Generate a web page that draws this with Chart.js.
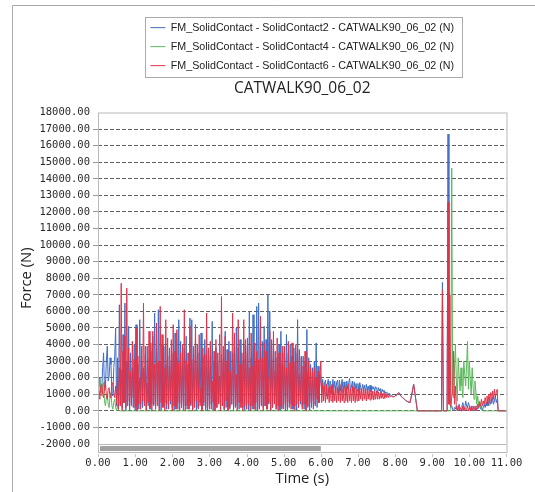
<!DOCTYPE html>
<html>
<head>
<meta charset="utf-8">
<script src="https://cdn.jsdelivr.net/npm/chart.js@4/dist/chart.umd.min.js"></script>
<style>
  html, body { margin: 0; padding: 0; background: #ffffff; }
  #c { display: block; width: 535px; height: 492px; }
</style>
</head>
<body>
<canvas id="c" width="535" height="492"></canvas>
<script>
// Contact forces sampled every 0.025 s, from 0.000 s to 11.000 s (441 samples)
const SAMPLE_STEP = 0.025;

const CONTACT2 = [
  /* 0.0 */ 900, 1500, 2000, 1100, 1200, 2600, 3500, 1200, 1400, 3000, 3900, 1800, 2100, 3200, 2800, 1000, 900, 2600, 3300, 5000,
  /* 0.5 */ 300, 3200, 100, 6400, 400, 2500, 200, 4600, 500, 6500, 0, 3000, 300, 5100, 100, 3500, 400, 2600, 200, 4000,
  /* 1.0 */ 0, 5200, 300, 2800, 100, 5500, 400, 3000, 200, 2600, 500, 3400, 0, 3900, 300, 2500, 100, 3600, 400, 4500,
  /* 1.5 */ 300, 5900, 100, 3800, 400, 6100, 200, 3000, 0, 4000, 300, 3900, 500, 2800, 100, 4400, 200, 3800, 400, 3000,
  /* 2.0 */ 200, 3500, 0, 4700, 300, 3200, 100, 5500, 400, 4200, 200, 3000, 0, 3800, 300, 4500, 100, 2800, 500, 5600,
  /* 2.5 */ 300, 5500, 100, 3000, 400, 4200, 0, 4000, 200, 3500, 500, 4700, 100, 3300, 300, 4300, 0, 3600, 200, 3000,
  /* 3.0 */ 100, 3300, 400, 5400, 0, 3000, 300, 3800, 200, 2900, 500, 4600, 100, 3400, 300, 3100, 0, 4800, 200, 3700,
  /* 3.5 */ 300, 4200, 100, 3600, 400, 3500, 0, 3900, 200, 5000, 300, 3800, 100, 4300, 500, 2900, 200, 4000, 0, 4300,
  /* 4.0 */ 200, 3600, 0, 6000, 300, 3200, 100, 5800, 400, 3000, 0, 6300, 200, 6500, 100, 4000, 300, 4200, 200, 5100,
  /* 4.5 */ 300, 4300, 100, 7000, 400, 6000, 0, 4300, 200, 3900, 500, 3600, 100, 3200, 300, 4000, 0, 4800, 200, 3500,
  /* 5.0 */ 100, 3200, 300, 4600, 0, 3500, 200, 4000, 400, 3300, 100, 3800, 300, 3500, 0, 5500, 200, 3700, 400, 3300,
  /* 5.5 */ 300, 3300, 100, 3000, 400, 4900, 200, 3200, 0, 2800, 300, 2600, 100, 3000, 400, 4100, 200, 2700, 500, 2200,
  /* 6.0 */ 1800, 1200, 1900, 1000, 1700, 1850, 900, 1600, 1900, 1100, 1800, 1500, 1000, 1900, 1300, 1800, 1100, 1700, 1850, 1000,
  /* 6.5 */ 1850, 1200, 1600, 1900, 1100, 1750, 1400, 1000, 1800, 1300, 1700, 1950, 1200, 1500, 1800, 1100, 1750, 1300, 1650, 1200,
  /* 7.0 */ 1650, 1100, 1700, 1400, 1200, 1600, 1300, 1550, 1100, 1600, 1250, 1500, 1200, 1550, 1150, 1500, 1300, 1450, 1150, 1450,
  /* 7.5 */ 1400, 1100, 1400, 1200, 1350, 1000, 1300, 1150, 1250, 1050, 1150, 1050, 1100, 1000, 1050, 950, 900, 900, 850, 850,
  /* 8.0 */ 900, 950, 1000, 1050, 1100, 1050, 900, 850, 800, 750, 700, 650, 600, 580, 550, 520, 500, 750, 1000, 1300,
  /* 8.5 */ 1600, 1200, 800, 400, 0, 0, 0, 0, 0, 0, 0, 0, 0, 0, 0, 0, 0, 0, 0, 0,
  /* 9.0 */ 0, 0, 0, 0, 0, 0, 0, 0, 0, 0, 0, 7750, 0, 0, 0, 0, 0, 16700, 900, 400,
  /* 9.5 */ 200, 300, 100, 0, 200, 100, 300, 0, 200, 400, 100, 0, 300, 500, 200, 100, 600, 300, 200, 500,
  /* 10.0 */ 300, 100, 0, 200, 300, 100, 0, 200, 300, 100, 200, 400, 100, 300, 0, 200, 400, 200, 500, 300,
  /* 10.5 */ 600, 300, 700, 400, 500, 800, 400, 600, 900, 500, 700, 0, 0, 0, 0, 0, 0, 0, 0, 0,
  /* 11.0 */ 0
];

const CONTACT4 = [
  /* 0.0 */ 1400, 1700, 1900, 1200, 900, 1500, 1700, 600, 300, 800, 1000, 400, 200, 900, 1100, 300, 100, 500, 700, 200,
  /* 0.5 */ 0, 400, 100, 0, 0, 0, 0, 0, 0, 0, 0, 0, 0, 0, 0, 0, 0, 0, 0, 0,
  /* 1.0 */ 0, 0, 0, 0, 0, 0, 0, 0, 0, 0, 0, 0, 0, 0, 0, 0, 0, 0, 0, 0,
  /* 1.5 */ 0, 0, 0, 0, 0, 0, 0, 0, 0, 0, 0, 0, 0, 0, 0, 0, 0, 0, 0, 0,
  /* 2.0 */ 0, 0, 0, 0, 0, 0, 0, 0, 0, 0, 0, 0, 0, 0, 0, 0, 0, 0, 0, 0,
  /* 2.5 */ 0, 0, 0, 0, 0, 0, 0, 0, 0, 0, 0, 0, 0, 0, 0, 0, 0, 0, 0, 0,
  /* 3.0 */ 0, 0, 0, 0, 0, 0, 0, 0, 0, 0, 0, 0, 0, 0, 0, 0, 0, 0, 0, 0,
  /* 3.5 */ 0, 0, 0, 0, 0, 0, 0, 0, 0, 0, 0, 0, 0, 0, 0, 0, 0, 0, 0, 0,
  /* 4.0 */ 0, 0, 0, 0, 0, 0, 0, 0, 0, 0, 0, 0, 0, 0, 0, 0, 0, 0, 0, 0,
  /* 4.5 */ 0, 0, 0, 0, 0, 0, 0, 0, 0, 0, 0, 0, 0, 0, 0, 0, 0, 0, 0, 0,
  /* 5.0 */ 0, 0, 0, 0, 0, 0, 0, 0, 0, 0, 0, 0, 0, 0, 0, 0, 0, 0, 0, 0,
  /* 5.5 */ 0, 0, 0, 0, 0, 0, 0, 0, 0, 0, 0, 0, 0, 0, 0, 0, 0, 0, 0, 0,
  /* 6.0 */ 0, 0, 0, 0, 0, 0, 0, 0, 0, 0, 0, 0, 0, 0, 0, 0, 0, 0, 0, 0,
  /* 6.5 */ 0, 0, 0, 0, 0, 0, 0, 0, 0, 0, 0, 0, 0, 0, 0, 0, 0, 0, 0, 0,
  /* 7.0 */ 0, 0, 0, 0, 0, 0, 0, 0, 0, 0, 0, 0, 0, 0, 0, 0, 0, 0, 0, 0,
  /* 7.5 */ 0, 0, 0, 0, 0, 0, 0, 0, 0, 0, 0, 0, 0, 0, 0, 0, 0, 0, 0, 0,
  /* 8.0 */ 0, 0, 0, 0, 0, 0, 0, 0, 0, 0, 0, 0, 0, 0, 0, 0, 0, 0, 0, 0,
  /* 8.5 */ 0, 0, 0, 0, 0, 0, 0, 0, 0, 0, 0, 0, 0, 0, 0, 0, 0, 0, 0, 0,
  /* 9.0 */ 0, 0, 0, 0, 0, 0, 0, 0, 0, 0, 0, 0, 0, 0, 0, 0, 0, 0, 0, 0,
  /* 9.5 */ 0, 14650, 1500, 800, 2500, 4000, 1800, 600, 3200, 2000, 1200, 2600, 1500, 800, 3000, 2200, 1500, 2700, 4200, 1300,
  /* 10.0 */ 3000, 1800, 1000, 2600, 1500, 700, 1800, 1200, 400, 900, 300, 600, 200, 100, 0, 0, 0, 0, 0, 0,
  /* 10.5 */ 0, 0, 0, 0, 0, 0, 0, 0, 0, 0, 0, 0, 0, 0, 0, 0, 0, 0, 0, 0,
  /* 11.0 */ 0
];

const CONTACT6 = [
  /* 0.0 */ 1200, 900, 700, 1500, 1600, 1000, 800, 1400, 1800, 900, 700, 1300, 1400, 800, 900, 1600, 1700, 1100, 800, 1500,
  /* 0.5 */ 400, 1900, 100, 2600, 300, 7700, 0, 3600, 500, 4500, 200, 7400, 600, 3800, 0, 2400, 300, 4200, 800, 3100,
  /* 1.0 */ 200, 5000, 0, 3300, 400, 2000, 100, 3900, 600, 6500, 300, 3900, 0, 1700, 500, 4800, 200, 4100, 0, 4800,
  /* 1.5 */ 400, 2800, 100, 5300, 300, 3000, 0, 6300, 500, 4600, 200, 2600, 0, 5500, 400, 3300, 100, 2700, 600, 4300,
  /* 2.0 */ 0, 5200, 300, 3600, 100, 4900, 500, 2900, 0, 3500, 200, 4000, 400, 6100, 0, 3000, 300, 3500, 100, 5100,
  /* 2.5 */ 400, 3100, 0, 3900, 200, 5200, 600, 3000, 100, 4600, 300, 1400, 0, 3800, 500, 3400, 200, 5900, 0, 3800,
  /* 3.0 */ 300, 4200, 100, 1800, 500, 3600, 0, 4300, 200, 3500, 400, 2100, 0, 6900, 300, 3900, 100, 4500, 600, 3000,
  /* 3.5 */ 0, 3600, 200, 2400, 400, 5900, 100, 4700, 300, 2200, 0, 5500, 500, 2800, 200, 3500, 0, 5500, 300, 3900,
  /* 4.0 */ 100, 4400, 400, 2600, 0, 4700, 300, 2700, 100, 4100, 500, 3600, 0, 3100, 200, 5700, 400, 3200, 0, 4100,
  /* 4.5 */ 300, 3600, 100, 2000, 500, 4800, 0, 3100, 200, 4800, 400, 2400, 100, 4400, 0, 3500, 300, 2800, 100, 3900,
  /* 5.0 */ 400, 3900, 0, 2600, 200, 4200, 500, 2900, 100, 4100, 300, 3000, 0, 4000, 400, 3700, 200, 2200, 600, 3200,
  /* 5.5 */ 100, 2700, 400, 3600, 0, 2300, 300, 3000, 500, 2600, 200, 2400, 600, 2600, 300, 2000, 700, 2400, 500, 1800,
  /* 6.0 */ 3000, 500, 1700, 600, 1500, 500, 1600, 700, 1400, 500, 1500, 600, 1600, 500, 1300, 600, 1500, 500, 1400, 600,
  /* 6.5 */ 1500, 500, 1600, 600, 1300, 500, 1500, 600, 1400, 500, 1600, 600, 1300, 500, 1500, 600, 1400, 500, 1300, 600,
  /* 7.0 */ 1300, 600, 1400, 700, 1300, 600, 1350, 700, 1250, 600, 1300, 700, 1200, 650, 1250, 700, 1200, 650, 1150, 700,
  /* 7.5 */ 1200, 700, 1150, 700, 1100, 750, 1050, 750, 1100, 750, 1050, 800, 1000, 800, 980, 850, 900, 850, 850, 850,
  /* 8.0 */ 900, 950, 1000, 1050, 1100, 1000, 900, 850, 800, 750, 700, 650, 600, 580, 550, 520, 500, 750, 1000, 1300,
  /* 8.5 */ 1600, 1200, 800, 400, 0, 0, 0, 0, 0, 0, 0, 0, 0, 0, 0, 0, 0, 0, 0, 0,
  /* 9.0 */ 0, 0, 0, 0, 0, 0, 0, 0, 0, 0, 0, 7300, 0, 0, 0, 0, 0, 12600, 400, 7000,
  /* 9.5 */ 300, 800, 1200, 3600, 400, 1500, 200, 0, 300, 0, 200, 100, 0, 300, 0, 200, 0, 100, 300, 0,
  /* 10.0 */ 200, 0, 300, 0, 200, 100, 300, 0, 200, 400, 200, 500, 300, 700, 300, 600, 400, 800, 500, 900,
  /* 10.5 */ 400, 1000, 600, 1100, 500, 1200, 700, 1300, 800, 1100, 1300, 0, 0, 0, 0, 0, 0, 0, 0, 0,
  /* 11.0 */ 0
];

const SERIES_NAMES = [
  'FM_SolidContact - SolidContact2 - CATWALK90_06_02 (N)',
  'FM_SolidContact - SolidContact4 - CATWALK90_06_02 (N)',
  'FM_SolidContact - SolidContact6 - CATWALK90_06_02 (N)'
];
const SERIES_COLORS = ['#3f6ec4', '#5cb85c', '#e2334a'];

const TIME_TICKS = { min: 0, max: 11, step: 1 };
const FORCE_TICKS = { min: -2000, max: 18000, step: 1000 };

const TIMES = CONTACT2.map((_, i) => +(i * SAMPLE_STEP).toFixed(3));

// Panel chrome: outer panel edges, plot frame, scroll strip, legend box
const chromePlugin = {
  id: 'chrome',
  afterDraw(chart) {
    const { ctx, chartArea: a } = chart;
    const x = chart.scales.x;
    ctx.save();
    ctx.lineWidth = 1;

    ctx.strokeStyle = '#a9a9a9';
    ctx.beginPath();
    ctx.moveTo(12.5, chart.height);
    ctx.lineTo(12.5, 5.5);
    ctx.lineTo(chart.width, 5.5);
    ctx.stroke();

    ctx.strokeStyle = '#b9b9b9';
    ctx.strokeRect(a.left + 0.5, a.top + 0.5, a.right - a.left, a.bottom + 8 - a.top);
    ctx.beginPath();
    ctx.moveTo(a.left, a.bottom + 0.5);
    ctx.lineTo(a.right, a.bottom + 0.5);
    ctx.stroke();

    ctx.fillStyle = '#a2a2a2';
    ctx.fillRect(a.left + 2, a.bottom + 2, x.getPixelForValue(6) - a.left - 2, 5);

    ctx.strokeStyle = '#c4c4c4';
    x.ticks.forEach(t => {
      const px = Math.round(x.getPixelForValue(t.value)) + 0.5;
      ctx.beginPath();
      ctx.moveTo(px, a.bottom + 10);
      ctx.lineTo(px, a.bottom + 13);
      ctx.stroke();
    });

    const hb = chart.legend.legendHitBoxes;
    if (hb && hb.length) {
      const x0 = Math.round(Math.min(...hb.map(h => h.left)) - 5) + 0.5;
      const x1 = Math.round(Math.max(...hb.map(h => h.left + h.width)) + 8) + 0.5;
      const last = hb[hb.length - 1];
      const y0 = Math.round(hb[0].top - 5) + 0.5;
      const y1 = Math.round(last.top + last.height + 6) + 0.5;
      ctx.strokeStyle = '#ababab';
      ctx.strokeRect(x0, y0, x1 - x0, y1 - y0);
    }
    ctx.restore();
  }
};

const tickFont = { family: 'DejaVu Sans Mono', size: 10.5 };
const axisTitleFont = { family: 'Open Sans', size: 14.8 };
const hiddenEdge = v => v === FORCE_TICKS.max || v === FORCE_TICKS.min;

new Chart(document.getElementById('c'), {
  type: 'line',
  data: {
    labels: TIMES,
    datasets: [CONTACT2, CONTACT4, CONTACT6].map((values, k) => ({
      label: SERIES_NAMES[k],
      data: values,
      borderColor: SERIES_COLORS[k],
      backgroundColor: SERIES_COLORS[k],
      borderWidth: 1,
      pointRadius: 0,
      tension: 0,
      fill: false,
      order: 3 - k
    }))
  },
  options: {
    responsive: false,
    animation: false,
    devicePixelRatio: 1,
    events: [],
    layout: { padding: { left: 13, right: 26, top: 14, bottom: 0 } },
    plugins: {
      legend: {
        display: true,
        position: 'top',
        fullSize: false,
        weight: 3000,
        labels: {
          usePointStyle: true,
          pointStyle: 'line',
          pointStyleWidth: 15,
          padding: 8.3,
          color: '#222222',
          font: { family: 'Liberation Sans', size: 10.7 },
          sort: (a, b) => a.datasetIndex - b.datasetIndex
        }
      },
      title: {
        display: true,
        text: 'CATWALK90_06_02',
        position: 'top',
        fullSize: false,
        weight: 2000,
        color: '#222222',
        font: { family: 'Open Sans', size: 15.5, weight: 'normal', lineHeight: 1 },
        padding: { top: 0, bottom: 16 }
      },
      tooltip: { enabled: false }
    },
    scales: {
      x: {
        type: 'linear',
        min: TIME_TICKS.min,
        max: TIME_TICKS.max,
        afterFit: s => { s.height = 48; },
        ticks: {
          stepSize: TIME_TICKS.step,
          autoSkip: false,
          maxRotation: 0,
          padding: 12.7,
          color: '#2a2a2a',
          font: tickFont,
          callback: v => Number(v).toFixed(2)
        },
        grid: { display: false, drawTicks: false },
        border: { display: false },
        title: {
          display: true,
          text: 'Time (s)',
          color: '#222222',
          font: axisTitleFont,
          padding: { top: 0, bottom: 4.1 }
        }
      },
      y: {
        min: FORCE_TICKS.min,
        max: FORCE_TICKS.max,
        afterFit: s => { s.width = 85; },
        ticks: {
          stepSize: FORCE_TICKS.step,
          autoSkip: false,
          padding: 3,
          color: '#2a2a2a',
          font: tickFont,
          callback: v => Number(v).toFixed(2)
        },
        grid: {
          color: c => (c.tick && hiddenEdge(c.tick.value)) ? 'rgba(0,0,0,0)' : '#606060',
          tickColor: c => (c.tick && hiddenEdge(c.tick.value)) ? 'rgba(0,0,0,0)' : '#9a9a9a',
          tickLength: 5,
          lineWidth: 1
        },
        border: { display: false, dash: [4, 2] },
        title: {
          display: true,
          text: 'Force (N)',
          color: '#222222',
          font: axisTitleFont,
          padding: { top: 5.1, bottom: 0 }
        }
      }
    }
  },
  plugins: [chromePlugin]
});
</script>
</body>
</html>
